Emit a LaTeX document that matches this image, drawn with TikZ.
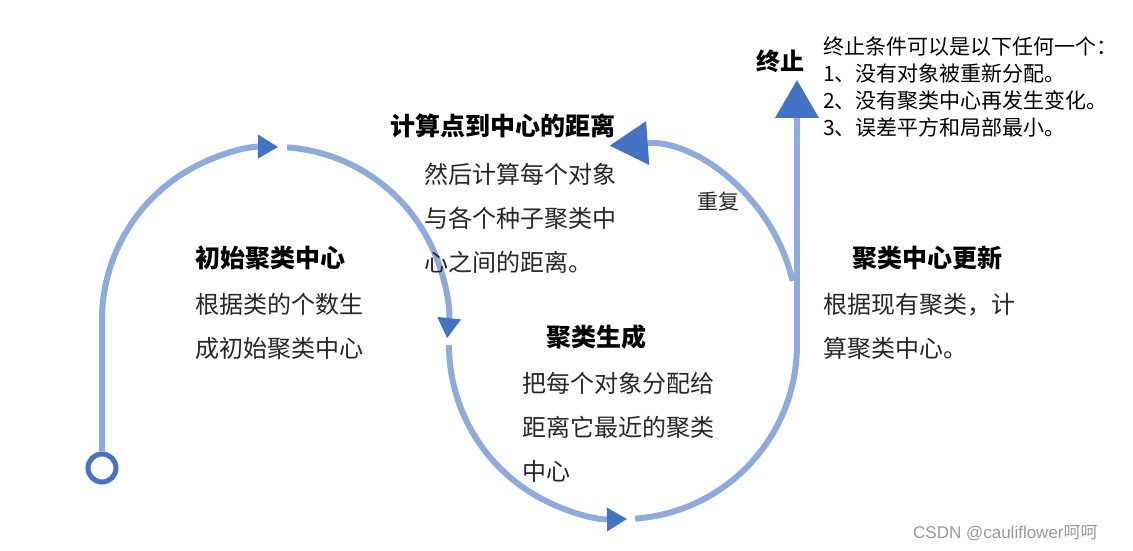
\documentclass[tikz,border=0pt]{standalone}
\usepackage{fontspec}
\setmainfont{Noto Sans CJK SC}
\newfontfamily\markfont{Liberation Sans}
\usepackage{tikz}
\usetikzlibrary{arrows.meta}
\definecolor{linkblue}{HTML}{8FAADC}
\definecolor{tipblue}{HTML}{4472C4}
\tikzset{
    flow/.style={draw=linkblue, line width=6pt},
    smalltip/.style={-{Triangle[length=20pt,width=24pt,line width=0pt,color=tipblue]}},
    bigtip/.style={-{Triangle[length=38pt,width=44pt,line width=0pt,color=tipblue]}},
    head/.style={anchor=base west, inner sep=0pt, font=\fontsize{25}{30}\selectfont\bfseries},
    body/.style={anchor=north west, inner sep=0pt, align=left, text=black!85, font=\fontsize{24}{44}\selectfont},
    note/.style={anchor=north west, inner sep=0pt, align=left, font=\fontsize{21}{27}\selectfont}
}
\begin{document}
\begin{tikzpicture}[x=1pt, y=1pt]
    \useasboundingbox (0,0) rectangle (1133,551);
    \node[shape=circle, draw=tipblue, line width=5pt, fill=white, minimum size=28pt, inner sep=0pt] at (102,83) (start) {};
    \coordinate (upA) at (102,231);
    \coordinate (topA) at (287.1,403.6);
    \coordinate (sideB) at (449,206);
    \coordinate (botB) at (635.1,32.4);
    \coordinate (stopTip) at (797,471);
    \coordinate (loopC) at (792.5,270.1);
    \path [flow, smalltip] (start) -- (upA) arc[start angle=180, end angle=89, radius=173];
    \path [flow, smalltip] (topA) arc[start angle=86, end angle=-6, radius=173];
    \path [flow, smalltip] (sideB) arc[start angle=180, end angle=271.3, radius=174];
    \path [flow, bigtip] (botB) arc[start angle=274, end angle=360, radius=174] -- (stopTip);
    \path [flow, bigtip] (loopC) arc[start angle=13, end angle=94, radius=175];
    \node[head] at (195,283) (initHead) {初始聚类中心};
    \node[body] at (195,258) (initText) {根据类的个数生\\成初始聚类中心};
    \node[head] at (390,415) (distHead) {计算点到中心的距离};
    \node[body] at (424,388) (distText) {然后计算每个对象\\与各个种子聚类中\\心之间的距离。};
    \node[head] at (546,204) (assignHead) {聚类生成};
    \node[body] at (522,179) (assignText) {把每个对象分配给\\距离它最近的聚类\\中心};
    \node[anchor=base west, inner sep=0pt, text=black!85, font=\fontsize{21}{25}\selectfont] at (697,341) (repeatLabel) {重复};
    \node[head] at (852,283) (updateHead) {聚类中心更新};
    \node[body] at (823,258) (updateText) {根据现有聚类，计\\算聚类中心。};
    \node[head, font=\fontsize{24}{28}\selectfont\bfseries] at (756,480) (stopHead) {终止};
    \node[note] at (823,514) (stopText) {终止条件可以是以下任何一个：\\1、没有对象被重新分配。\\2、没有聚类中心再发生变化。\\3、误差平方和局部最小。};
    \node[anchor=base west, inner sep=0pt, text=black!40, font=\fontsize{17}{19}\selectfont] at (913,12) (mark) {{\markfont CSDN @cauliflower}呵呵};
\end{tikzpicture}
\end{document}
